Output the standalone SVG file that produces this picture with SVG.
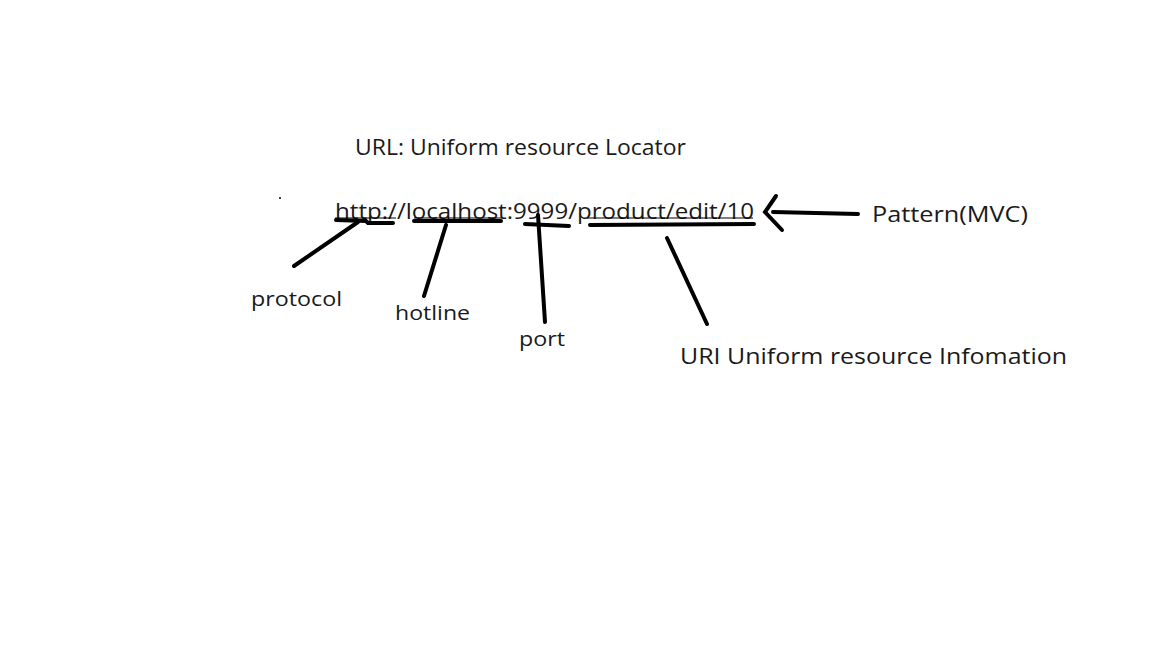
<svg xmlns="http://www.w3.org/2000/svg" width="1152" height="648" viewBox="0 0 1152 648">
<style>
text{font-family:"Open Sans","Noto Sans","Liberation Sans",sans-serif;fill:#1a1a1a;}
.ink{stroke:#000;stroke-width:4;stroke-linecap:round;fill:none;}
</style>
<rect width="1152" height="648" fill="#fff"/>
<g id="title"><text x="355" y="155" font-size="21" textLength="331" lengthAdjust="spacingAndGlyphs">URL: Uniform resource Locator</text></g>
<g id="url"><text x="335" y="219" font-size="22" textLength="419" lengthAdjust="spacingAndGlyphs">http://localhost:9999/product/edit/10</text>
<line x1="335" y1="218" x2="396" y2="218" stroke="#000" stroke-width="1.2"/>
<line x1="414" y1="218" x2="502" y2="218" stroke="#000" stroke-width="1.2"/>
<line x1="587" y1="218" x2="753" y2="218" stroke="#000" stroke-width="1.2"/>
</g>
<g id="pattern"><text x="872" y="222" font-size="22" textLength="156" lengthAdjust="spacingAndGlyphs">Pattern(MVC)</text></g>
<g id="protocol"><text x="251" y="306" font-size="20" textLength="91" lengthAdjust="spacingAndGlyphs">protocol</text></g>
<g id="hotline"><text x="395" y="320" font-size="20" textLength="75" lengthAdjust="spacingAndGlyphs">hotline</text></g>
<g id="port"><text x="519" y="346" font-size="20" textLength="46" lengthAdjust="spacingAndGlyphs">port</text></g>
<g id="uri"><text x="680" y="364" font-size="22" textLength="387" lengthAdjust="spacingAndGlyphs">URI Uniform resource Infomation</text></g>
<circle cx="280" cy="198" r="1" fill="#000"/>
<g id="connectors">
<path class="ink" d="M336,220 L366,221 L368,223 L393,223"/>
<path class="ink" d="M358,222 L294,266"/>
<path class="ink" d="M414,221 L501,221"/>
<path class="ink" d="M446,225 L424,296"/>
<path class="ink" d="M525,224 L569,226"/>
<path class="ink" d="M538,215 L545,322"/>
<path class="ink" d="M590,225 L754,224"/>
<path class="ink" d="M667,238 L707,324"/>
<path class="ink" d="M773,212 L858,214"/>
<path class="ink" d="M776,196 L765,212 L782,230"/>
</g>
</svg>
